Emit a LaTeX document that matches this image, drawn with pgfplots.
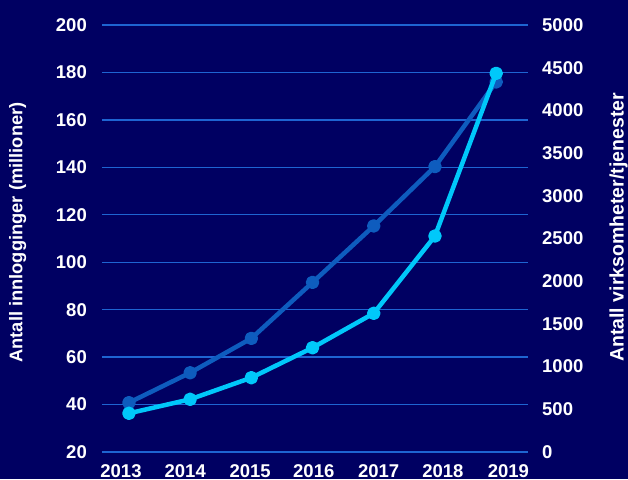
\documentclass[border=0pt]{standalone}
\usepackage{pgfplots}
\pgfplotsset{compat=1.18}
\usepackage{fontspec}
\setmainfont{Liberation Sans}
\definecolor{bg}{RGB}{0,0,98}
\definecolor{gridc}{RGB}{30,100,210}
\definecolor{darkc}{RGB}{14,92,190}
\definecolor{cyanc}{RGB}{0,200,250}
\pgfplotsset{
  common/.style={
    at={(0,0)}, anchor=south west,
    scale only axis, width=426pt, height=427pt,
    xmin=-0.44, xmax=6.52,
    axis line style={draw=none}, major tick length=0pt,
    tick style={draw=none},
    ticklabel style={font=\fontsize{18.5}{20}\selectfont\bfseries, text=white, inner sep=0pt},
    /pgf/number format/assume math mode=true,
    /pgf/number format/1000 sep={},
    clip=false,
  }
}
\begin{document}
\begin{tikzpicture}
\fill[bg] (-102pt,-27pt) rectangle (526pt,452pt);
\path[use as bounding box] (-102pt,-27pt) rectangle (526pt,452pt);
\begin{axis}[common,
  ymin=20, ymax=200, ytick={20,40,...,200},
  ymajorgrids, grid style={gridc, line width=1.4pt},
  xtick={-0.13,0.92,1.98,3.02,4.08,5.13,6.2},
  xticklabels={2013,2014,2015,2016,2017,2018,2019},
  yticklabel style={anchor=east, xshift=-15pt},
  xticklabel style={anchor=north, yshift=-12pt},
  ylabel={Antall innlogginger (millioner)},
  ylabel style={at={(axis description cs:-0.198,0.514)}, anchor=center,
    font=\fontsize{18.3}{20}\selectfont\bfseries, text=white},
]
\addplot[darkc, line width=4.5pt, line join=round, mark=*, mark size=4.5pt,
  mark options={fill=darkc, draw=none}]
  coordinates {(0,40.8) (1,53.4) (2,67.9) (3,91.5) (4,115.3) (5,140.3) (6,176)};
\end{axis}
\begin{axis}[common,
  axis y line*=right, axis x line=none,
  ymin=0, ymax=5000, ytick={0,500,...,5000},
  yticklabel style={anchor=west, xshift=14pt},
  ylabel={Antall virksomheter/tjenester},
  ylabel style={at={(axis description cs:1.2125,0.526)}, anchor=center, rotate=0,
    font=\fontsize{19.5}{21}\selectfont\bfseries, text=white},
]
\addplot[cyanc, line width=4.5pt, line join=round, mark=*, mark size=4.5pt,
  mark options={fill=cyanc, draw=none}]
  coordinates {(0,453) (1,617) (2,870) (3,1221) (4,1624) (5,2529) (6,4434)};
\end{axis}
\end{tikzpicture}
\end{document}
